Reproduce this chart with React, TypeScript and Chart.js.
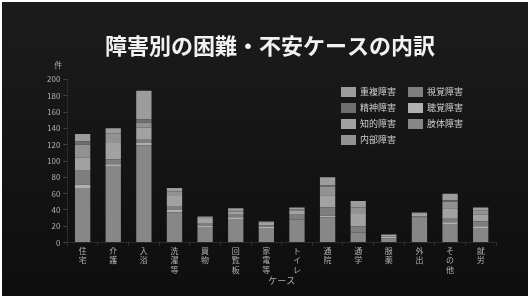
import React, { useEffect, useRef } from "react";
import { Chart, registerables } from "chart.js";

Chart.register(...registerables);

const categories = ["住宅", "介護", "入浴", "洗濯等", "買物", "回覧板", "家電等", "トイレ", "通院", "通学", "服薬", "外出", "その他", "就労"];

// stacked bottom -> top
const shitai = [67, 93, 119, 37, 19, 29, 18, 28, 31, 12, 5, 30, 22, 18];
const choukaku = [4, 3, 3, 3, 2, 2, 1, 0, 2, 0, 2, 0, 3, 2];
const shikaku = [17, 6, 5, 5, 3, 3, 2, 6, 10, 8, 1, 2, 5, 6];
const chiteki = [16, 20, 14, 12, 5, 4, 3, 5, 15, 15, 2, 3, 12, 8];
const naibu = [16, 12, 6, 6, 3, 2, 2, 2, 10, 8, 0, 2, 8, 5];
const seishin = [4, 0, 4, 0, 0, 0, 0, 0, 2, 0, 0, 0, 2, 0];
const juufuku = [9, 6, 35, 4, 0, 2, 0, 2, 10, 8, 0, 0, 8, 4];

const yTicks = [0, 20, 40, 60, 80, 100, 120, 140, 160, 180, 200];
const legendOrder = ["重複障害", "視覚障害", "精神障害", "聴覚障害", "知的障害", "肢体障害", "内部障害"];

const FONT = "'Noto Sans CJK JP', 'Noto Sans', sans-serif";

const legendPlugin = {
  id: "customLegend",
  afterDraw(chart: any) {
    const ctx = chart.ctx;
    const ds = chart.data.datasets;
    const x0 = 339;
    const y0 = 85;
    const colW = 67;
    const rowH = 16;
    ctx.save();
    ctx.font = `9px ${FONT}`;
    ctx.textBaseline = "middle";
    legendOrder.forEach((name, i) => {
      const d = ds.find((x: any) => x.label === name);
      const col = i % 2;
      const row = Math.floor(i / 2);
      const x = x0 + col * colW;
      const y = y0 + row * rowH;
      ctx.fillStyle = d.backgroundColor;
      ctx.fillRect(x, y, 15, 10);
      ctx.fillStyle = "#d0d0d0";
      ctx.fillText(name, x + 19, y + 5);
    });
    const ys = chart.scales.y;
    ctx.font = `8px ${FONT}`;
    ctx.fillStyle = "#b0b0b0";
    ctx.textAlign = "right";
    ctx.fillText("件", ys.right - 5, ys.top - 14);
    ctx.restore();
  },
};

export default function App() {
  const ref = useRef<HTMLCanvasElement>(null);
  useEffect(() => {
    document.body.style.margin = "0";
    const ctx = ref.current!.getContext("2d")!;
    const chart = new Chart(ctx, {
      type: "bar",
      data: {
        labels: categories,
        datasets: [
          { label: "肢体障害", data: shitai, backgroundColor: "#878787" },
          { label: "聴覚障害", data: choukaku, backgroundColor: "#b0b0b0" },
          { label: "視覚障害", data: shikaku, backgroundColor: "#7e7e7e" },
          { label: "知的障害", data: chiteki, backgroundColor: "#a2a2a2" },
          { label: "内部障害", data: naibu, backgroundColor: "#929292" },
          { label: "精神障害", data: seishin, backgroundColor: "#6e6e6e" },
          { label: "重複障害", data: juufuku, backgroundColor: "#9c9c9c" },
        ],
      },
      options: {
        animation: false,
        responsive: false,
        maintainAspectRatio: false,
        layout: { padding: { left: 42, right: 32, top: 0, bottom: 10 } },
        datasets: { bar: { barPercentage: 0.5, categoryPercentage: 1 } } as any,
        plugins: {
          legend: { display: false },
          tooltip: { enabled: false },
          title: {
            display: true,
            text: "障害別の困難・不安ケースの内訳",
            color: "#f2f2f2",
            font: { size: 22, weight: "bold", family: FONT },
            padding: { top: 30, bottom: 21 },
          },
        },
        scales: {
          x: {
            stacked: true,
            grid: { drawOnChartArea: false, drawTicks: true, tickLength: 3, color: "#333" },
            border: { display: true, color: "#2a2a2a" },
            ticks: {
              color: "#b0b0b0",
              font: { size: 8, family: FONT, lineHeight: 1.15 },
              maxRotation: 0,
              minRotation: 0,
              autoSkip: false,
              padding: 1,
              callback: (_v: any, i: number) => categories[i].split(""),
            },
            title: { display: true, text: "ケース", color: "#b0b0b0", font: { size: 9, family: FONT }, padding: { top: 0, bottom: 0 } },
          },
          y: {
            stacked: true,
            min: 0,
            max: 200,
            afterBuildTicks: (s: any) => { s.ticks = yTicks.map((v) => ({ value: v })); },
            grid: { drawOnChartArea: false, drawTicks: true, tickLength: 4, color: "#444" },
            border: { display: true, color: "#2a2a2a" },
            ticks: { color: "#b0b0b0", font: { size: 8, family: FONT }, padding: 3 },
          },
        },
      },
      plugins: [legendPlugin],
    });
    return () => chart.destroy();
  }, []);
  return (
    <div style={{ width: 530, height: 298, background: "#fff", padding: 2, boxSizing: "border-box" }}>
      <div style={{ width: 526, height: 294, background: "linear-gradient(#1c1c1c, #0e0e0e)" }}>
        <canvas ref={ref} width={526} height={294} style={{ display: "block" }} />
      </div>
    </div>
  );
}
